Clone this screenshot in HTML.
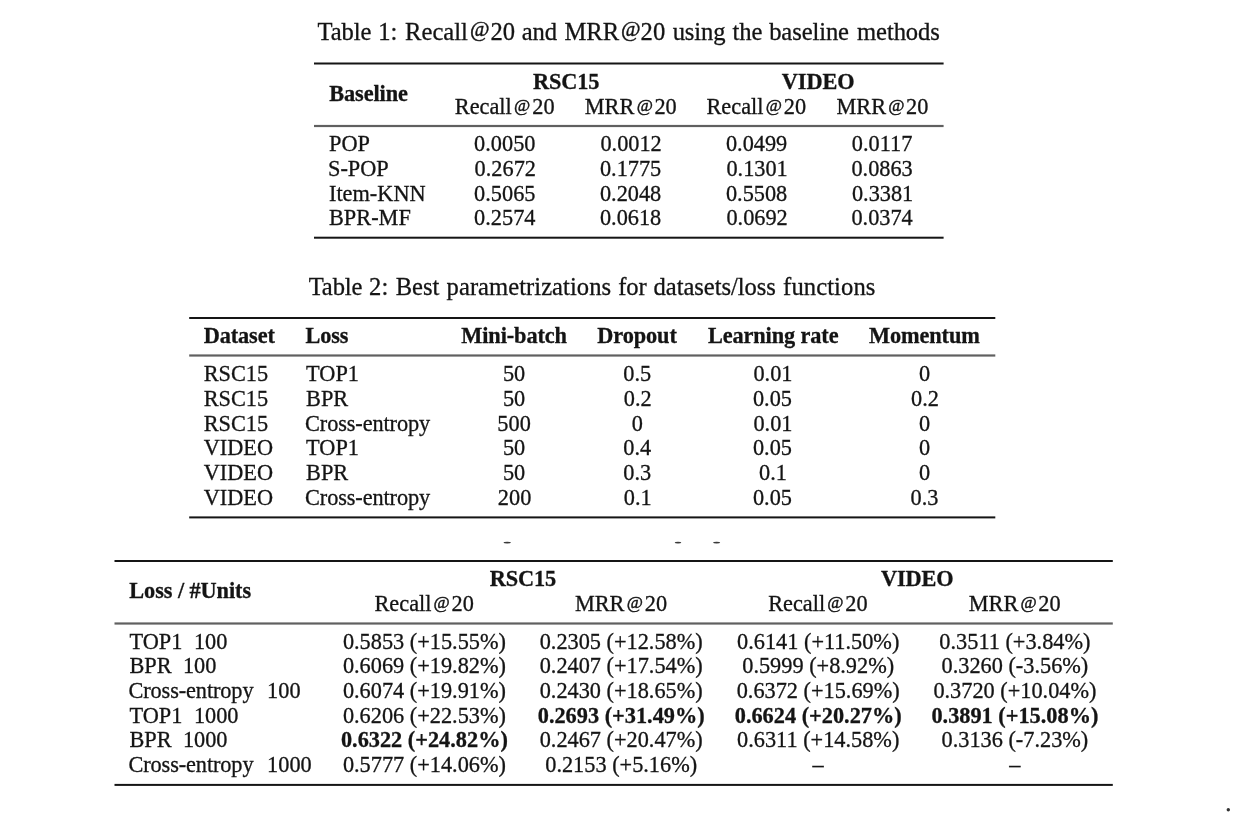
<!DOCTYPE html>
<html lang="en">
<head>
<meta charset="utf-8">
<title>Tables</title>
<style>
html,body{margin:0;padding:0;background:#fff;}
body{width:1249px;height:821px;position:relative;overflow:hidden;
  font-family:"Liberation Serif",serif;color:#141414;}
#pg{position:absolute;left:0;top:0;width:1249px;height:821px;overflow:hidden;background:#fff;filter:blur(0.6px);}
#pg span{position:absolute;white-space:pre;font-size:22.3px;line-height:22px;font-weight:normal;-webkit-text-stroke:0.3px #141414;}
#pg span.c{font-size:24.6px;line-height:24px;}
#pg span.b{font-weight:bold;}
#pg span.at{font-size:17.62px;line-height:18px;-webkit-text-stroke-width:0.45px;}
#pg span.ac{font-size:21.16px;line-height:20px;-webkit-text-stroke-width:0.45px;}
svg{position:absolute;left:0;top:0;}
</style>
</head>
<body>
<div id="pg">
<svg width="1249" height="821" viewBox="0 0 1249 821">
<g fill="#151515">
<rect x="314.00" y="62.50" width="629.60" height="2.00"/>
<rect x="314.00" y="124.90" width="629.60" height="2.20" fill="#606060"/>
<rect x="314.00" y="236.70" width="629.60" height="2.00"/>
<rect x="189.20" y="317.00" width="806.10" height="2.00"/>
<rect x="189.20" y="354.40" width="806.10" height="2.20" fill="#606060"/>
<rect x="189.20" y="516.40" width="806.10" height="2.00"/>
<rect x="114.50" y="560.00" width="998.30" height="2.00"/>
<rect x="114.50" y="622.40" width="998.30" height="2.20" fill="#606060"/>
<rect x="114.50" y="783.90" width="998.30" height="2.00"/>
</g>

<ellipse cx="507.2" cy="542.6" rx="3.7" ry="0.85" fill="#3a3a3a"/>
<ellipse cx="678.0" cy="542.6" rx="3.3" ry="0.85" fill="#3a3a3a"/>
<ellipse cx="716.6" cy="542.6" rx="3.5" ry="0.85" fill="#3a3a3a"/>
<circle cx="1228.3" cy="809.8" r="1.7" fill="#333"/>

</svg>
<span class="c" style="left:317.47px;top:20px;letter-spacing:-0.100px">Table</span>
<span class="c" style="left:378.35px;top:20px;letter-spacing:-0.100px">1:</span>
<span class="c" style="left:405.10px;top:20px">Recall</span>
<span class="ac" style="left:469.99px;top:19px">@</span>
<span class="c" style="left:490.50px;top:20px">20</span>
<span class="c" style="left:521.69px;top:20px;letter-spacing:-0.100px">and</span>
<span class="c" style="left:564.50px;top:20px">MRR</span>
<span class="ac" style="left:620.89px;top:19px">@</span>
<span class="c" style="left:640.60px;top:20px">20</span>
<span class="c" style="left:672.65px;top:20px;letter-spacing:-0.100px">using</span>
<span class="c" style="left:732.49px;top:20px;letter-spacing:-0.100px">the</span>
<span class="c" style="left:769.17px;top:20px;letter-spacing:-0.100px">baseline</span>
<span class="c" style="left:857.07px;top:20px;letter-spacing:-0.100px">methods</span>
<span class="b" style="left:329.31px;top:83px;letter-spacing:-0.100px">Baseline</span>
<span class="b" style="left:532.97px;top:71px;letter-spacing:-0.100px">RSC15</span>
<span class="b" style="left:781.87px;top:71px;letter-spacing:-0.100px">VIDEO</span>
<span style="left:454.80px;top:96px">Recall</span>
<span class="at" style="left:514.10px;top:96px">@</span>
<span style="left:532.25px;top:96px">20</span>
<span style="left:584.80px;top:96px">MRR</span>
<span class="at" style="left:636.67px;top:96px">@</span>
<span style="left:654.45px;top:96px">20</span>
<span style="left:706.50px;top:96px">Recall</span>
<span class="at" style="left:765.75px;top:96px">@</span>
<span style="left:783.85px;top:96px">20</span>
<span style="left:836.50px;top:96px">MRR</span>
<span class="at" style="left:888.32px;top:96px">@</span>
<span style="left:906.05px;top:96px">20</span>
<span style="left:329.00px;top:133px">POP</span>
<span style="left:474.12px;top:133px">0.0050</span>
<span style="left:600.42px;top:133px">0.0012</span>
<span style="left:725.92px;top:133px">0.0499</span>
<span style="left:851.83px;top:133px">0.0117</span>
<span style="left:328.00px;top:158px">S-POP</span>
<span style="left:474.62px;top:158px">0.2672</span>
<span style="left:599.92px;top:158px">0.1775</span>
<span style="left:726.42px;top:158px">0.1301</span>
<span style="left:851.42px;top:158px">0.0863</span>
<span style="left:329.00px;top:183px">Item-KNN</span>
<span style="left:474.12px;top:183px">0.5065</span>
<span style="left:599.92px;top:183px">0.2048</span>
<span style="left:725.92px;top:183px">0.5508</span>
<span style="left:851.92px;top:183px">0.3381</span>
<span style="left:329.00px;top:207px">BPR-MF</span>
<span style="left:474.12px;top:207px">0.2574</span>
<span style="left:599.92px;top:207px">0.0618</span>
<span style="left:726.42px;top:207px">0.0692</span>
<span style="left:851.42px;top:207px">0.0374</span>
<span class="c" style="left:308.67px;top:275px;letter-spacing:-0.100px">Table</span>
<span class="c" style="left:369.00px;top:275px;letter-spacing:0.100px">2:</span>
<span class="c" style="left:395.80px;top:275px;letter-spacing:-0.100px">Best</span>
<span class="c" style="left:446.60px;top:275px;letter-spacing:0.039px">parametrizations</span>
<span class="c" style="left:618.26px;top:275px;letter-spacing:-0.100px">for</span>
<span class="c" style="left:653.60px;top:275px;letter-spacing:-0.065px">datasets/loss</span>
<span class="c" style="left:783.10px;top:275px;letter-spacing:0.093px">functions</span>
<span class="b" style="left:203.65px;top:325px;letter-spacing:-0.100px">Dataset</span>
<span class="b" style="left:305.45px;top:325px;letter-spacing:-0.100px">Loss</span>
<span class="b" style="left:461.33px;top:325px;letter-spacing:-0.100px">Mini-batch</span>
<span class="b" style="left:597.30px;top:325px;letter-spacing:-0.100px">Dropout</span>
<span class="b" style="left:707.90px;top:325px;letter-spacing:-0.100px">Learning rate</span>
<span class="b" style="left:869.01px;top:325px;letter-spacing:-0.100px">Momentum</span>
<span style="left:203.70px;top:363px">RSC15</span>
<span style="left:306.10px;top:363px">TOP1</span>
<span style="left:502.93px;top:363px">50</span>
<span style="left:623.34px;top:363px">0.5</span>
<span style="left:753.46px;top:363px">0.01</span>
<span style="left:918.90px;top:363px">0</span>
<span style="left:203.70px;top:388px">RSC15</span>
<span style="left:306.10px;top:388px">BPR</span>
<span style="left:502.93px;top:388px">50</span>
<span style="left:623.84px;top:388px">0.2</span>
<span style="left:752.96px;top:388px">0.05</span>
<span style="left:911.04px;top:388px">0.2</span>
<span style="left:203.70px;top:413px">RSC15</span>
<span style="left:305.06px;top:413px;letter-spacing:-0.100px">Cross-entropy</span>
<span style="left:497.35px;top:413px">500</span>
<span style="left:631.70px;top:413px">0</span>
<span style="left:753.46px;top:413px">0.01</span>
<span style="left:918.90px;top:413px">0</span>
<span style="left:203.70px;top:437px">VIDEO</span>
<span style="left:306.10px;top:437px">TOP1</span>
<span style="left:502.93px;top:437px">50</span>
<span style="left:623.34px;top:437px">0.4</span>
<span style="left:752.96px;top:437px">0.05</span>
<span style="left:918.90px;top:437px">0</span>
<span style="left:203.70px;top:462px">VIDEO</span>
<span style="left:306.10px;top:462px">BPR</span>
<span style="left:502.93px;top:462px">50</span>
<span style="left:623.34px;top:462px">0.3</span>
<span style="left:759.04px;top:462px">0.1</span>
<span style="left:918.90px;top:462px">0</span>
<span style="left:203.70px;top:487px">VIDEO</span>
<span style="left:305.06px;top:487px;letter-spacing:-0.100px">Cross-entropy</span>
<span style="left:497.85px;top:487px">200</span>
<span style="left:623.84px;top:487px">0.1</span>
<span style="left:752.96px;top:487px">0.05</span>
<span style="left:910.54px;top:487px">0.3</span>
<span class="b" style="left:129.30px;top:580px;letter-spacing:-0.074px">Loss / #Units</span>
<span class="b" style="left:489.72px;top:568px;letter-spacing:-0.100px">RSC15</span>
<span class="b" style="left:880.97px;top:568px;letter-spacing:-0.100px">VIDEO</span>
<span style="left:374.50px;top:593px">Recall</span>
<span class="at" style="left:433.60px;top:593px">@</span>
<span style="left:451.55px;top:593px">20</span>
<span style="left:574.90px;top:593px">MRR</span>
<span class="at" style="left:626.87px;top:593px">@</span>
<span style="left:644.75px;top:593px">20</span>
<span style="left:768.20px;top:593px">Recall</span>
<span class="at" style="left:827.30px;top:593px">@</span>
<span style="left:845.25px;top:593px">20</span>
<span style="left:968.70px;top:593px">MRR</span>
<span class="at" style="left:1020.52px;top:593px">@</span>
<span style="left:1038.25px;top:593px">20</span>
<span style="left:129.50px;top:631px">TOP1</span>
<span style="left:193.90px;top:631px">100</span>
<span style="left:342.88px;top:631px">0.5853 (+15.55%)</span>
<span style="left:539.68px;top:631px">0.2305 (+12.58%)</span>
<span style="left:737.10px;top:631px">0.6141 (+11.50%)</span>
<span style="left:939.37px;top:631px">0.3511 (+3.84%)</span>
<span style="left:129.50px;top:655px">BPR</span>
<span style="left:182.90px;top:655px">100</span>
<span style="left:342.88px;top:655px">0.6069 (+19.82%)</span>
<span style="left:539.68px;top:655px">0.2407 (+17.54%)</span>
<span style="left:742.26px;top:655px">0.5999 (+8.92%)</span>
<span style="left:941.53px;top:655px">0.3260 (-3.56%)</span>
<span style="left:128.41px;top:680px;letter-spacing:-0.100px">Cross-entropy</span>
<span style="left:267.10px;top:680px">100</span>
<span style="left:342.88px;top:680px">0.6074 (+19.91%)</span>
<span style="left:539.68px;top:680px">0.2430 (+18.65%)</span>
<span style="left:736.68px;top:680px">0.6372 (+15.69%)</span>
<span style="left:933.38px;top:680px">0.3720 (+10.04%)</span>
<span style="left:129.50px;top:705px">TOP1</span>
<span style="left:193.90px;top:705px">1000</span>
<span style="left:342.88px;top:705px">0.6206 (+22.53%)</span>
<span class="b" style="left:537.76px;top:705px">0.2693 (+31.49%)</span>
<span class="b" style="left:734.76px;top:705px">0.6624 (+20.27%)</span>
<span class="b" style="left:931.46px;top:705px">0.3891 (+15.08%)</span>
<span style="left:129.50px;top:729px">BPR</span>
<span style="left:182.90px;top:729px">1000</span>
<span class="b" style="left:340.96px;top:729px">0.6322 (+24.82%)</span>
<span style="left:539.68px;top:729px">0.2467 (+20.47%)</span>
<span style="left:737.10px;top:729px">0.6311 (+14.58%)</span>
<span style="left:941.53px;top:729px">0.3136 (-7.23%)</span>
<span style="left:128.41px;top:754px;letter-spacing:-0.100px">Cross-entropy</span>
<span style="left:267.10px;top:754px">1000</span>
<span style="left:342.88px;top:754px">0.5777 (+14.06%)</span>
<span style="left:545.26px;top:754px">0.2153 (+5.16%)</span>
<span style="left:812.50px;top:754px">–</span>
<span style="left:1009.20px;top:754px">–</span>
</div>
</body>
</html>
